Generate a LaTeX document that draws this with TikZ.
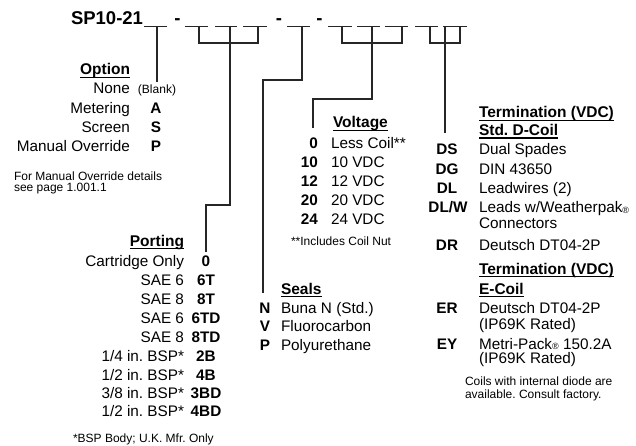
\documentclass[tikz,border=0pt]{standalone}
\usepackage{fontspec}
\setmainfont{Liberation Sans}
\frenchspacing
\begin{document}
\begin{tikzpicture}[x=1pt,y=-1pt,
  every node/.style={inner sep=0pt, outer sep=0pt},
  txt/.style={font=\fontsize{15.3}{18}\selectfont},
  cd/.style={font=\fontsize{15.3}{18}\selectfont\bfseries},
  hd/.style={font=\fontsize{15.5}{18}\selectfont\bfseries},
  sm/.style={font=\fontsize{12}{12}\selectfont},
  ttl/.style={font=\fontsize{18.5}{20}\selectfont\bfseries},
  conn/.style={draw=black!85, line width=1.1pt},
  ulin/.style={draw=black, line width=1.1pt},
  blank/.style={draw=black!85, line width=1pt}]
\useasboundingbox (0,0) rectangle (636,446);

% ---- title and blanks ----
\node[ttl, anchor=base east] (title) at (143,25) {SP10-21};
\node[ttl, anchor=base] (d1) at (177.5,25) {-};
\node[ttl, anchor=base] (d2) at (279,25) {-};
\node[ttl, anchor=base] (d3) at (319.5,25) {-};
\foreach \a/\b in {144/167,185/208,215/237,243/267,287/310,328/352,357/380,385/408,415/438,443/467}
  \draw[blank] (\a,27) -- (\b,27);

% ---- connector coordinates ----
\coordinate (oA) at (157,27);  \coordinate (oB) at (157,82);
\coordinate (g2l) at (199,27); \coordinate (g2r) at (258,27); \coordinate (g2b) at (258,43);
\coordinate (pA) at (230,27);  \coordinate (pK) at (230,205); \coordinate (pB) at (206,252);
\coordinate (sA) at (302,27);  \coordinate (sK) at (302,80);  \coordinate (sB) at (263,293);
\coordinate (g3l) at (342,27); \coordinate (g3r) at (402,27); \coordinate (g3b) at (402,43);
\coordinate (vA) at (372,27);  \coordinate (vK) at (372,99);  \coordinate (vB) at (313,128);
\coordinate (g4l) at (430,27); \coordinate (g4r) at (460,27); \coordinate (g4b) at (460,43);
\coordinate (tA) at (445,27);  \coordinate (tB) at (445,133);

\draw[conn] (oA) -- (oB);
\draw[conn] (g2l) |- (g2b) -- (g2r);
\draw[conn] (pA) -- (pK) -| (pB);
\draw[conn] (sA) -- (sK) -| (sB);
\draw[conn] (g3l) |- (g3b) -- (g3r);
\draw[conn] (vA) -- (vK) -| (vB);
\draw[conn] (g4l) |- (g4b) -- (g4r);
\draw[conn] (tA) -- (tB);

% ---- Option ----
\node[hd, anchor=base east] (hopt) at (130,75) {Option};
\draw[ulin] ([yshift=-2.5pt]hopt.base west) -- ([yshift=-2.5pt]hopt.base east);
\node[txt, anchor=base east] (o1) at (130,94) {None};
\node[sm, anchor=base] (o1c) at (157,94) {(Blank)};
\node[txt, anchor=base east] (o2) at (130,113.2) {Metering};
\node[cd, anchor=base] (o2c) at (156,113.2) {A};
\node[txt, anchor=base east] (o3) at (130,132.4) {Screen};
\node[cd, anchor=base] (o3c) at (156,132.4) {S};
\node[txt, anchor=base east] (o4) at (130,151.6) {Manual Override};
\node[cd, anchor=base] (o4c) at (156,151.6) {P};
\node[sm, anchor=base west] (on1) at (14,181) {For Manual Override details};
\node[sm, anchor=base west] (on2) at (14,191.5) {see page 1.001.1};

% ---- Porting ----
\node[hd, anchor=base east] (hport) at (184,246) {Porting};
\draw[ulin] ([yshift=-2.5pt]hport.base west) -- ([yshift=-2.5pt]hport.base east);
\foreach \n/\y/\l/\c in {1/266/Cartridge Only/0, 2/285/SAE 6/6T, 3/304.3/SAE 8/8T,
    4/323.3/SAE 6/6TD, 5/342.5/SAE 8/8TD, 6/361.5/1\slash 4 in. BSP*/2B,
    7/380.5/1\slash 2 in. BSP*/4B, 8/398.5/3\slash 8 in. BSP*/3BD, 9/416/1\slash 2 in. BSP*/4BD}{
  \node[txt, anchor=base east] (p\n) at (184,\y) {\l};
  \node[cd, anchor=base] (p\n c) at (206,\y) {\c};
}
\node[sm, anchor=base west] (pn) at (73,442) {*BSP Body; U.K. Mfr. Only};

% ---- Voltage ----
\node[hd, anchor=base west] (hvol) at (333,128) {Voltage};
\draw[ulin] ([yshift=-2.5pt]hvol.base west) -- ([yshift=-2.5pt]hvol.base east);
\foreach \n/\y/\c/\l in {1/148.3/0/Less Coil**, 2/167.3/10/10 VDC, 3/186.3/12/12 VDC,
    4/205.3/20/20 VDC, 5/224.5/24/24 VDC}{
  \node[cd, anchor=base east] (v\n c) at (318,\y) {\c};
  \node[txt, anchor=base west] (v\n) at (331,\y) {\l};
}
\node[sm, anchor=base west] (vn) at (291,245) {**Includes Coil Nut};

% ---- Seals ----
\node[hd, anchor=base west] (hseal) at (281,294) {Seals};
\draw[ulin] ([yshift=-2.5pt]hseal.base west) -- ([yshift=-2.5pt]hseal.base east);
\foreach \n/\y/\c/\l in {1/313.3/N/Buna N (Std.), 2/331.8/V/Fluorocarbon, 3/350.5/P/Polyurethane}{
  \node[cd, anchor=base] (s\n c) at (265,\y) {\c};
  \node[txt, anchor=base west] (s\n) at (281,\y) {\l};
}

% ---- Termination D-Coil ----
\node[hd, anchor=base west] (ht1) at (479,118) {Termination (VDC)};
\draw[ulin] ([yshift=-2.5pt]ht1.base west) -- ([yshift=-2.5pt]ht1.base east);
\node[hd, anchor=base west] (ht1b) at (479,135.5) {Std. D-Coil};
\draw[ulin] ([yshift=-2.5pt]ht1b.base west) -- ([yshift=-2.5pt]ht1b.base east);
\node[cd, anchor=base] (t1c) at (447,155) {DS};
\node[txt, anchor=base west] (t1) at (479,155) {Dual Spades};
\node[cd, anchor=base] (t2c) at (447,174.5) {DG};
\node[txt, anchor=base west] (t2) at (479,174.5) {DIN 43650};
\node[cd, anchor=base] (t3c) at (447,193.8) {DL};
\node[txt, anchor=base west] (t3) at (479,193.8) {Leadwires (2)};
\node[cd, anchor=base] (t4c) at (448,212.7) {DL/W};
\node[txt, anchor=base west] (t4) at (479,212.7) {Leads w/Weatherpak{\fontsize{9}{9}\selectfont\raisebox{-0.5pt}{®}}};
\node[txt, anchor=base west] (t4b) at (479,229) {Connectors};
\node[cd, anchor=base] (t5c) at (447,250) {DR};
\node[txt, anchor=base west] (t5) at (479,250) {Deutsch DT04-2P};

% ---- Termination E-Coil ----
\node[hd, anchor=base west] (ht2) at (479,274) {Termination (VDC)};
\draw[ulin] ([yshift=-2.5pt]ht2.base west) -- ([yshift=-2.5pt]ht2.base east);
\node[hd, anchor=base west] (ht2b) at (479,294) {E-Coil};
\draw[ulin] ([yshift=-2.5pt]ht2b.base west) -- ([yshift=-2.5pt]ht2b.base east);
\node[cd, anchor=base] (e1c) at (447,313.3) {ER};
\node[txt, anchor=base west] (e1) at (479,313.3) {Deutsch DT04-2P};
\node[txt, anchor=base west] (e1b) at (479,329.3) {(IP69K Rated)};
\node[cd, anchor=base] (e2c) at (447,349.3) {EY};
\node[txt, anchor=base west] (e2) at (479,349.3) {Metri-Pack{\fontsize{9}{9}\selectfont\raisebox{-0.5pt}{®}} 150.2A};
\node[txt, anchor=base west] (e2b) at (479,363.3) {(IP69K Rated)};
\node[sm, anchor=base west] (en1) at (465,385.7) {Coils with internal diode are};
\node[sm, anchor=base west] (en2) at (465,398.3) {available. Consult factory.};
\end{tikzpicture}
\end{document}
